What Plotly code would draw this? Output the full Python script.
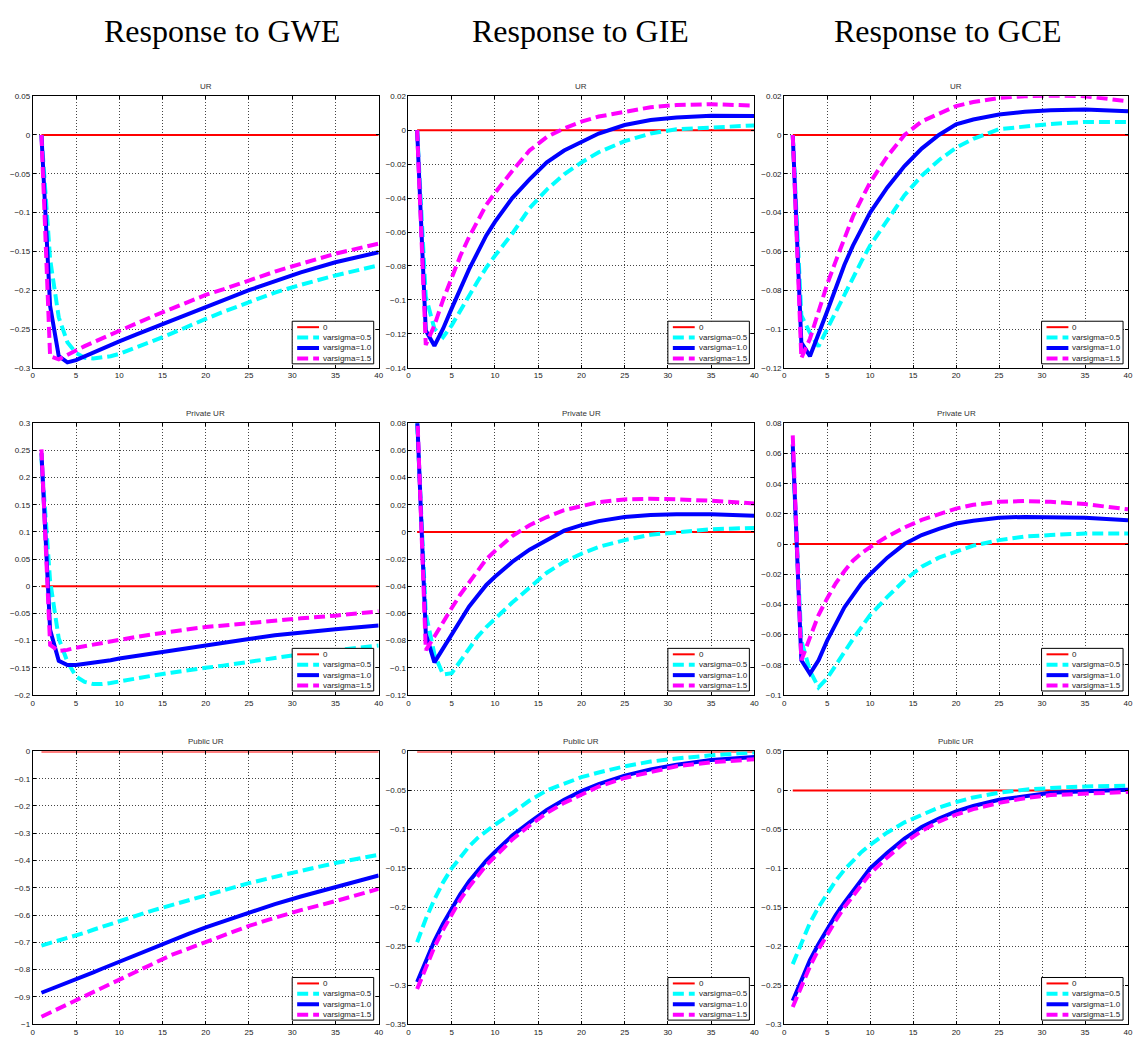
import plotly.graph_objects as go

W, H = 1136, 1039

# ---------------- data ----------------
periods = [1, 2, 3, 4, 5, 6, 7, 8, 9, 10, 12, 14, 16, 18, 20, 22, 25, 28, 31, 35, 40]
zero_resp = [0, 0, 0, 0, 0, 0, 0, 0, 0, 0, 0, 0, 0, 0, 0, 0, 0, 0, 0, 0, 0]

series_names = ["0", "varsigma=0.5", "varsigma=1.0", "varsigma=1.5"]
column_titles = ["Response to GWE", "Response to GIE", "Response to GCE"]
row_titles = ["UR", "Private UR", "Public UR"]

# Row 1: UR
gwe_ur_05 = [0, -0.160, -0.235, -0.267, -0.281, -0.287, -0.288, -0.287, -0.285, -0.282, -0.274, -0.265, -0.256, -0.246, -0.237, -0.228, -0.215, -0.203, -0.193, -0.181, -0.168]
gwe_ur_10 = [0, -0.220, -0.285, -0.293, -0.290, -0.285, -0.280, -0.276, -0.271, -0.266, -0.257, -0.248, -0.239, -0.230, -0.221, -0.213, -0.200, -0.189, -0.177, -0.164, -0.151]
gwe_ur_15 = [0, -0.285, -0.289, -0.283, -0.277, -0.272, -0.267, -0.262, -0.257, -0.252, -0.243, -0.233, -0.224, -0.215, -0.206, -0.199, -0.187, -0.176, -0.166, -0.153, -0.140]

gie_ur_05 = [0, -0.098, -0.117, -0.122, -0.115, -0.106, -0.097, -0.089, -0.081, -0.074, -0.061, -0.046, -0.035, -0.026, -0.019, -0.013, -0.0065, -0.002, 0.0005, 0.0015, 0.0028]
gie_ur_10 = [0, -0.118, -0.127, -0.117, -0.105, -0.093, -0.082, -0.072, -0.062, -0.054, -0.040, -0.029, -0.019, -0.012, -0.007, -0.002, 0.003, 0.006, 0.0075, 0.0085, 0.0083]
gie_ur_15 = [0, -0.1265, -0.115, -0.100, -0.087, -0.074, -0.063, -0.053, -0.044, -0.037, -0.024, -0.012, -0.004, 0.001, 0.005, 0.008, 0.011, 0.0135, 0.0148, 0.0153, 0.0145]

gce_ur_05 = [0, -0.093, -0.102, -0.109, -0.100, -0.091, -0.0825, -0.074, -0.065, -0.057, -0.044, -0.031, -0.021, -0.013, -0.0065, -0.002, 0.003, 0.0045, 0.0057, 0.0067, 0.0067]
gce_ur_10 = [0, -0.107, -0.114, -0.103, -0.091, -0.079, -0.067, -0.057, -0.048, -0.040, -0.027, -0.016, -0.007, 0.000, 0.0055, 0.008, 0.0106, 0.012, 0.0128, 0.0131, 0.0123]
gce_ur_15 = [0, -0.115, -0.105, -0.091, -0.077, -0.065, -0.053, -0.042, -0.033, -0.0244, -0.011, 0.000, 0.007, 0.011, 0.0149, 0.017, 0.0191, 0.020, 0.0203, 0.020, 0.0174]

# Row 2: Private UR
gwe_pur_05 = [0.235, 0.010, -0.096, -0.139, -0.166, -0.176, -0.180, -0.180, -0.178, -0.175, -0.170, -0.164, -0.159, -0.154, -0.150, -0.146, -0.139, -0.132, -0.125, -0.118, -0.109]
gwe_pur_10 = [0.245, -0.080, -0.137, -0.145, -0.145, -0.143, -0.141, -0.139, -0.136, -0.133, -0.128, -0.124, -0.119, -0.114, -0.109, -0.104, -0.097, -0.090, -0.085, -0.079, -0.072]
gwe_pur_15 = [0.252, -0.108, -0.119, -0.117, -0.113, -0.110, -0.107, -0.104, -0.101, -0.098, -0.093, -0.088, -0.083, -0.079, -0.075, -0.072, -0.067, -0.063, -0.059, -0.054, -0.046]

gie_pur_05 = [0.080, -0.060, -0.090, -0.105, -0.104, -0.095, -0.085, -0.077, -0.070, -0.064, -0.052, -0.041, -0.030, -0.022, -0.016, -0.011, -0.006, -0.002, 0.000, 0.002, 0.003]
gie_pur_10 = [0.085, -0.075, -0.096, -0.086, -0.075, -0.065, -0.055, -0.047, -0.039, -0.033, -0.022, -0.013, -0.006, 0.001, 0.005, 0.008, 0.011, 0.0125, 0.013, 0.013, 0.012]
gie_pur_15 = [0.090, -0.087, -0.077, -0.066, -0.056, -0.046, -0.037, -0.028, -0.020, -0.014, -0.003, 0.005, 0.011, 0.016, 0.019, 0.022, 0.024, 0.0245, 0.024, 0.023, 0.021]

gce_pur_05 = [0.062, -0.064, -0.084, -0.095, -0.089, -0.080, -0.071, -0.063, -0.055, -0.047, -0.035, -0.024, -0.015, -0.009, -0.005, -0.001, 0.0026, 0.005, 0.006, 0.007, 0.007]
gce_pur_10 = [0.066, -0.077, -0.086, -0.077, -0.064, -0.053, -0.042, -0.034, -0.026, -0.020, -0.009, 0.000, 0.006, 0.010, 0.0136, 0.0155, 0.0175, 0.018, 0.018, 0.0175, 0.0158]
gce_pur_15 = [0.072, -0.077, -0.062, -0.047, -0.036, -0.026, -0.018, -0.011, -0.006, -0.002, 0.005, 0.011, 0.016, 0.020, 0.0235, 0.026, 0.028, 0.0285, 0.028, 0.0265, 0.023]

# Row 3: Public UR
gwe_gur_05 = [-0.712, -0.703, -0.694, -0.686, -0.677, -0.665, -0.654, -0.643, -0.632, -0.621, -0.602, -0.582, -0.564, -0.546, -0.528, -0.510, -0.483, -0.460, -0.438, -0.409, -0.379]
gwe_gur_10 = [-0.885, -0.873, -0.860, -0.848, -0.835, -0.822, -0.810, -0.797, -0.784, -0.772, -0.746, -0.720, -0.695, -0.669, -0.645, -0.623, -0.590, -0.560, -0.532, -0.497, -0.455]
gwe_gur_15 = [-0.973, -0.958, -0.943, -0.928, -0.913, -0.897, -0.881, -0.865, -0.849, -0.834, -0.804, -0.775, -0.747, -0.723, -0.700, -0.676, -0.640, -0.610, -0.582, -0.549, -0.504]

gie_gur_05 = [-0.245, -0.215, -0.190, -0.168, -0.150, -0.135, -0.122, -0.111, -0.102, -0.094, -0.079, -0.063, -0.050, -0.041, -0.033, -0.027, -0.019, -0.013, -0.009, -0.005, -0.001]
gie_gur_10 = [-0.296, -0.268, -0.243, -0.221, -0.201, -0.183, -0.167, -0.153, -0.140, -0.129, -0.108, -0.091, -0.075, -0.062, -0.051, -0.042, -0.031, -0.023, -0.017, -0.011, -0.007]
gie_gur_15 = [-0.305, -0.277, -0.251, -0.229, -0.209, -0.190, -0.174, -0.159, -0.146, -0.135, -0.113, -0.095, -0.079, -0.066, -0.055, -0.045, -0.034, -0.026, -0.019, -0.014, -0.010]

gce_gur_05 = [-0.223, -0.195, -0.170, -0.150, -0.132, -0.116, -0.102, -0.090, -0.079, -0.070, -0.054, -0.041, -0.031, -0.022, -0.015, -0.009, -0.003, 0.001, 0.003, 0.005, 0.006]
gce_gur_10 = [-0.270, -0.243, -0.218, -0.197, -0.178, -0.160, -0.144, -0.130, -0.115, -0.100, -0.080, -0.062, -0.047, -0.036, -0.027, -0.020, -0.012, -0.007, -0.003, -0.001, 0.001]
gce_gur_15 = [-0.278, -0.251, -0.226, -0.204, -0.185, -0.167, -0.150, -0.135, -0.121, -0.107, -0.086, -0.067, -0.052, -0.040, -0.031, -0.024, -0.016, -0.010, -0.006, -0.004, -0.002]

# y-axis ranges / tick steps per panel (row-major)
y_ranges = [
    [-0.30, 0.05], [-0.14, 0.02], [-0.12, 0.02],
    [-0.20, 0.30], [-0.12, 0.08], [-0.10, 0.08],
    [-1.00, 0.00], [-0.35, 0.00], [-0.30, 0.05],
]
y_dticks = [0.05, 0.02, 0.02, 0.05, 0.02, 0.02, 0.1, 0.05, 0.05]

panel_data = [
    [gwe_ur_05, gwe_ur_10, gwe_ur_15], [gie_ur_05, gie_ur_10, gie_ur_15], [gce_ur_05, gce_ur_10, gce_ur_15],
    [gwe_pur_05, gwe_pur_10, gwe_pur_15], [gie_pur_05, gie_pur_10, gie_pur_15], [gce_pur_05, gce_pur_10, gce_pur_15],
    [gwe_gur_05, gwe_gur_10, gwe_gur_15], [gie_gur_05, gie_gur_10, gie_gur_15], [gce_gur_05, gce_gur_10, gce_gur_15],
]

# ---------------- layout geometry (screen pixels) ----------------
col_px = [(31, 379), (409, 757), (787, 1133)]
row_px = [(93, 367), (423, 697), (754, 1029)]
title_cx = [221, 582, 952]


def px_x(p):
    return p / W


def px_y(p):
    return 1 - p / H


colors = ["#ff0000", "#00ffff", "#0000ff", "#ff00ff"]
widths = [2, 4, 4, 4]
dashes = ["solid", "11px,5px", "solid", "11px,5px"]

fig = go.Figure()
layout = dict(
    width=W, height=H,
    margin=dict(l=0, r=0, t=0, b=0),
    paper_bgcolor="white", plot_bgcolor="white",
    font=dict(family="Liberation Sans, Arial, sans-serif", size=8, color="#222"),
    showlegend=False,
)
annotations = []
shapes = []

for idx in range(9):
    r, c = divmod(idx, 3)
    n = idx + 1
    xa = "x" if n == 1 else f"x{n}"
    ya = "y" if n == 1 else f"y{n}"
    x0, x1 = col_px[c]
    yt, yb = row_px[r]

    ys = [zero_resp] + panel_data[idx]
    for k in range(4):
        fig.add_trace(go.Scatter(
            x=periods, y=ys[k], mode="lines", name=series_names[k],
            line=dict(color=colors[k], width=widths[k], dash=dashes[k]),
            xaxis=xa, yaxis=ya, showlegend=False, cliponaxis=True,
        ))

    axis_common = dict(
        showline=True, linecolor="black", linewidth=1, mirror="ticks",
        ticks="inside", ticklen=3, tickcolor="black",
        showgrid=True, gridcolor="#444", griddash="1px,2px", gridwidth=1,
        zeroline=False, tickfont=dict(size=8, color="#222"),
    )
    layout["xaxis" if n == 1 else f"xaxis{n}"] = dict(
        axis_common, domain=[px_x(x0), px_x(x1)], range=[0, 40],
        tick0=0, dtick=5, anchor=ya,
    )
    layout["yaxis" if n == 1 else f"yaxis{n}"] = dict(
        axis_common, domain=[px_y(yb), px_y(yt)], range=y_ranges[idx],
        tick0=0, dtick=y_dticks[idx], anchor=xa,
    )

    # subplot title
    annotations.append(dict(
        text=row_titles[r], x=(px_x(x0) + px_x(x1)) / 2, y=px_y(yt - 3),
        xref="paper", yref="paper", xanchor="center", yanchor="bottom",
        showarrow=False, font=dict(size=8, color="#333"),
    ))

    # MATLAB-style legend box inside the lower right corner of each panel
    pw, ph = x1 - x0, yb - yt
    xd = f"{xa} domain"
    yd = f"{ya} domain"

    def dx(p, x0=x0, pw=pw):
        return (p - x0) / pw

    def dy(p, yb=yb, ph=ph):
        return (yb - p) / ph

    lg_l, lg_r = x1 - 87, x1 - 5
    lg_t, lg_b = yb - 47, yb - 4
    shapes.append(dict(
        type="rect", xref=xd, yref=yd,
        x0=dx(lg_l), x1=dx(lg_r), y0=dy(lg_b), y1=dy(lg_t),
        fillcolor="white", line=dict(color="black", width=1), layer="above",
    ))
    for k in range(4):
        cy = lg_t + 6 + k * 10.5
        shapes.append(dict(
            type="line", xref=xd, yref=yd,
            x0=dx(lg_l + 5), x1=dx(lg_l + 27), y0=dy(cy), y1=dy(cy),
            line=dict(color=colors[k], width=widths[k], dash=dashes[k]),
            layer="above",
        ))
        annotations.append(dict(
            text=series_names[k], xref=xd, yref=yd,
            x=dx(lg_l + 29), y=dy(cy), xanchor="left", yanchor="middle",
            showarrow=False, font=dict(size=8, color="#222"),
        ))

for c in range(3):
    annotations.append(dict(
        text=column_titles[c], x=px_x(title_cx[c]), y=px_y(27),
        xref="paper", yref="paper", xanchor="center", yanchor="middle",
        showarrow=False,
        font=dict(family="Liberation Serif, Times New Roman, serif", size=32, color="black"),
    ))

layout["annotations"] = annotations
layout["shapes"] = shapes
fig.update_layout(**layout)
fig.write_html(
    "out.html",
    config={"displayModeBar": False},
    post_script="document.body.style.margin='0';document.body.style.overflow='hidden';"
                "document.documentElement.style.overflow='hidden';",
)
